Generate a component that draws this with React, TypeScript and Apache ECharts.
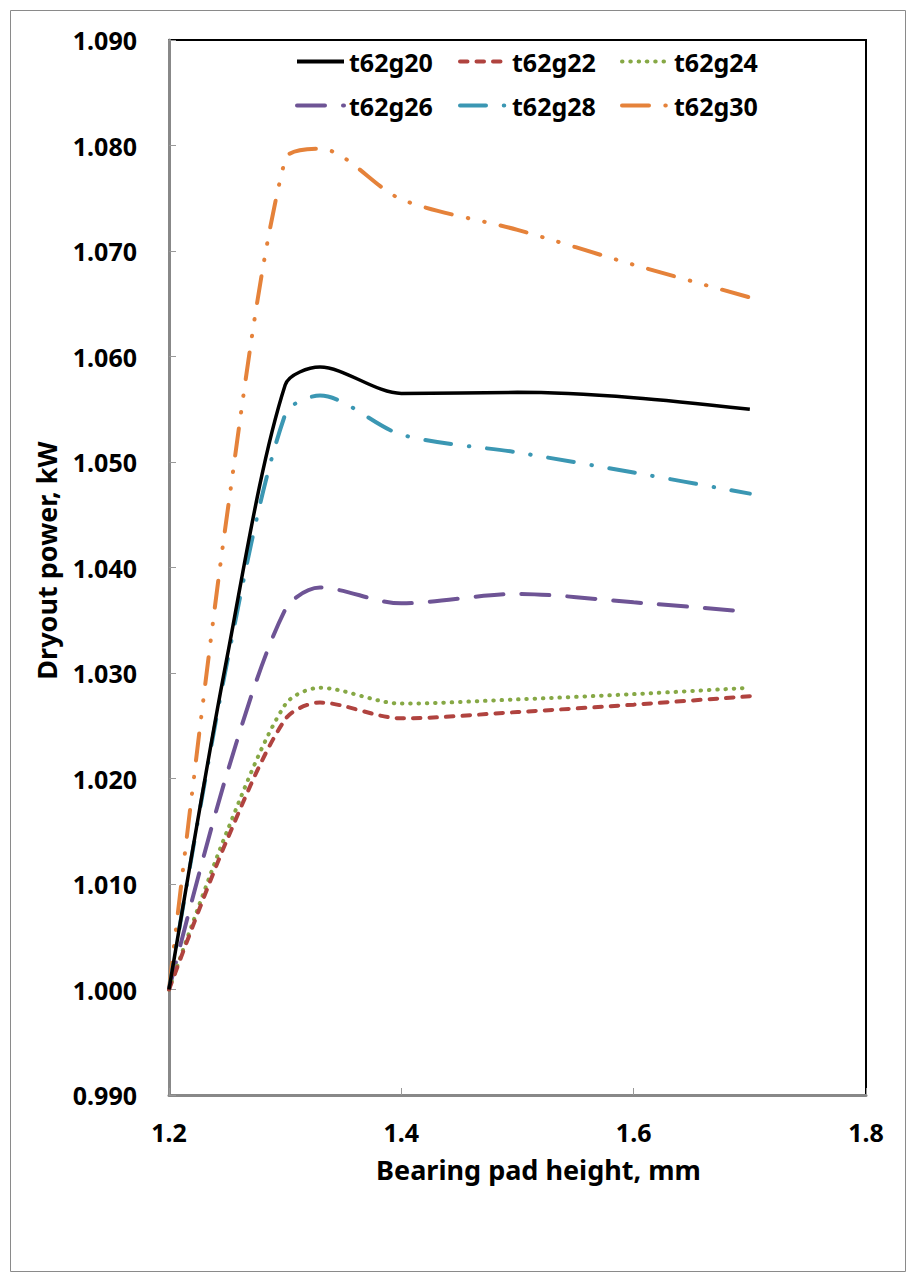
import React, { useEffect, useRef } from 'react';
import * as echarts from 'echarts';

const padHeights = [1.2, 1.25, 1.3, 1.33, 1.4, 1.5, 1.6, 1.7];
const seriesNames = ['t62g20', 't62g22', 't62g24', 't62g26', 't62g28', 't62g30'];
const t62g20 = [1.0, 1.0315, 1.0573, 1.059, 1.0565, 1.0566, 1.0561, 1.055];
const t62g22 = [1.0, 1.0142, 1.0256, 1.0272, 1.0257, 1.0263, 1.027, 1.0278];
const t62g24 = [1.0, 1.015, 1.027, 1.0286, 1.0271, 1.0275, 1.028, 1.0286];
const t62g26 = [1.0, 1.0205, 1.036, 1.0381, 1.0366, 1.0375, 1.0367, 1.0358];
const t62g28 = [1.0, 1.031, 1.0545, 1.0563, 1.0526, 1.0509, 1.049, 1.047];
const t62g30 = [1.0, 1.045, 1.0787, 1.0797, 1.0749, 1.072, 1.0687, 1.0656];
const allValues = [t62g20, t62g22, t62g24, t62g26, t62g28, t62g30];

const colors = ['#000000', '#B0433F', '#86A845', '#6E5495', '#3B97B3', '#E5823A'];
const dashes: any[] = [
  'solid',
  [7.5, 9],
  [0.5, 7.8],
  [28, 18],
  [26, 17.75, 0.5, 17.75],
  [27, 16.3, 0.5, 16.3, 0.5, 16.3],
];
const legendLeft = [290, 453, 615];
const legendTop = [44, 88];

export default function App() {
  const ref = useRef<HTMLDivElement>(null);
  useEffect(() => {
    if (!ref.current) return;
    const chart = echarts.init(ref.current, null, { renderer: 'svg' });
    const font = '"Noto Sans", sans-serif';
    const series = seriesNames.map((name, i) => ({
      name,
      type: 'line',
      smooth: 0.3,
      showSymbol: false,
      symbol: 'none',
      data: padHeights.map((x, j) => [x, allValues[i][j]]),
      lineStyle: {
        color: colors[i],
        width: i === 0 ? 3.5 : 4,
        type: dashes[i],
        cap: i === 0 ? 'butt' : 'round',
      },
      itemStyle: { color: colors[i] },
      z: 10 - i,
    }));
    const legends = seriesNames.map((name, i) => ({
      orient: 'horizontal',
      left: legendLeft[i % 3],
      top: legendTop[Math.floor(i / 3)],
      itemWidth: 47,
      itemHeight: 2,
      itemGap: 0,
      selectedMode: false,
      data: [name],
      lineStyle: { width: 4, cap: i === 0 ? 'butt' : 'round' },
      textStyle: { fontFamily: font, fontSize: 25, fontWeight: 'bold', color: '#000' },
    }));
    chart.setOption({
      animation: false,
      backgroundColor: '#ffffff',
      legend: legends,
      grid: {
        left: 169,
        right: 51,
        top: 40,
        bottom: 186,
        show: true,
        borderColor: '#000',
        borderWidth: 2,
        containLabel: false,
      },
      xAxis: {
        type: 'value',
        min: 1.2,
        max: 1.8,
        interval: 0.2,
        name: 'Bearing pad height, mm',
        nameLocation: 'middle',
        nameGap: 61,
        nameTextStyle: { fontFamily: font, fontSize: 27, fontWeight: 'bold', color: '#000', padding: [0, 0, 0, 42] },
        axisLine: { show: true, onZero: false, lineStyle: { color: '#888', width: 3 } },
        axisTick: { show: true, inside: true, length: 7, lineStyle: { color: '#999', width: 1 } },
        axisLabel: {
          margin: 24,
          fontFamily: font,
          fontSize: 25,
          fontWeight: 'bold',
          color: '#000',
          formatter: (v: number) => v.toFixed(1),
        },
        splitLine: { show: false },
      },
      yAxis: {
        type: 'value',
        min: 0.99,
        max: 1.09,
        interval: 0.01,
        name: 'Dryout power, kW',
        nameLocation: 'middle',
        nameGap: 109,
        nameRotate: 90,
        nameTextStyle: { fontFamily: font, fontSize: 27, fontWeight: 'bold', color: '#000', padding: [0, 0, 0, 14] },
        axisLine: { show: true, onZero: false, lineStyle: { color: '#888', width: 3 } },
        axisTick: { show: true, inside: true, length: 7, lineStyle: { color: '#999', width: 1 } },
        axisLabel: {
          margin: 32,
          fontFamily: font,
          fontSize: 25,
          fontWeight: 'bold',
          color: '#000',
          formatter: (v: number) => v.toFixed(3),
        },
        splitLine: { show: false },
      },
      graphic: [
        {
          type: 'rect',
          shape: { x: 10.5, y: 10.5, width: 895, height: 1261 },
          style: { fill: 'none', stroke: '#8a8a8a', lineWidth: 1 },
          silent: true,
          z: -10,
        },
      ],
      series,
    });
    return () => chart.dispose();
  }, []);
  return (
    <div
      ref={ref}
      style={{ position: 'absolute', left: 0, top: 0, width: 917, height: 1281, background: '#fff' }}
    />
  );
}
